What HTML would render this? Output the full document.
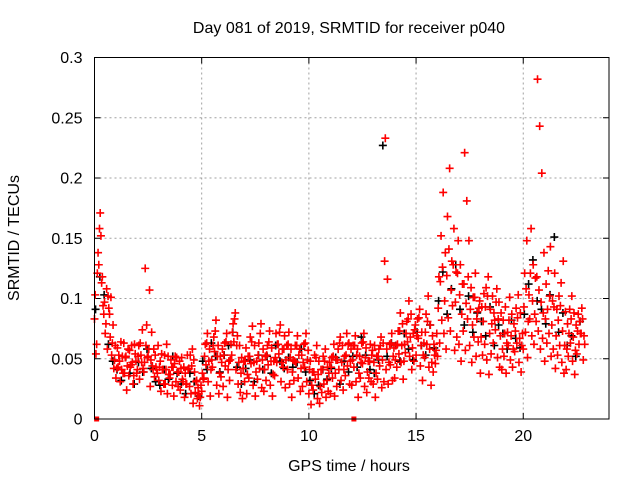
<!DOCTYPE html>
<html><head><meta charset="utf-8"><style>
body{margin:0;background:#fff}
svg{display:block;font-family:"Liberation Sans",sans-serif}
</style></head><body>
<svg id="chart" width="640" height="480"></svg>
<script>
const xTicks=[0,5,10,15,20];
const yTicks=[0,0.05,0.1,0.15,0.2,0.25,0.3];
const yTickLabels=["0","0.05","0.1","0.15","0.2","0.25","0.3"];
const redA=[.083,.062,.128,.152,.094,.071,.058,.087,.053,.042,.034,.043,.031,.052,.038,.024,.036,.045,.029,.054,.041,.033,.047,.039,.061,.052,.027,.044,.035,.041,.032,.023,.041,.029,.021,.034,.043,.019,.031,.027,.024,.033,.018,.029,.042,.021,.013,.022,.017,.011,.023,.034,.045,.031,.019,.043,.056,.028,.021,.035,.027,.044,.018,.032,.053,.064,.041,.029,.022,.017,.031,.021,.034,.046,.028,.019,.033,.042,.026,.023,.032,.045,.028,.019,.036,.047,.054,.031,.043,.026,.041,.029,.018,.032,.047,.034,.023,.027,.043,.031,.021,.012,.024,.033,.017,.013,.022,.029,.018,.023,.021,.034,.019,.027,.041,.032,.024,.036,.044,.029,.028,.043,.031,.018,.034,.046,.027,.022,.034,.031,.029,.018,.033,.044,.026,.031,.041,.029,.045,.032,.034,.043,.054,.047,.033,.055,.064,.052,.041,.048,.053,.067,.044,.032,.051,.062,.043,.028,.039,.046,.052,.063,.082,.071,.058,.084,.073,.094,.057,.068,.062,.048,.073,.057,.083,.061,.047,.068,.052,.064,.038,.053,.062,.049,.037,.054,.063,.074,.051,.043,.041,.052,.038,.061,.049,.043,.056,.063,.047,.039,.058,.072,.051,.083,.069,.062,.081,.073,.058,.067,.048,.063,.071,.052,.058,.042,.053,.061,.047,.038,.041,.052,.063,.048,.037,.054,.062,.071,.049];
const redB=[.103,.121,.158,.113,.087,.079,.102,.068,.063,.049,.042,.053,.064,.038,.051,.044,.057,.061,.036,.048,.052,.063,.074,.047,.078,.058,.049,.041,.053,.038,.043,.054,.029,.041,.052,.037,.028,.046,.051,.039,.042,.031,.038,.053,.027,.044,.049,.031,.026,.018,.038,.052,.063,.048,.041,.061,.073,.052,.038,.047,.053,.064,.041,.049,.072,.083,.061,.047,.038,.042,.048,.037,.052,.064,.047,.039,.053,.071,.049,.041,.053,.064,.048,.037,.051,.062,.072,.047,.058,.049,.062,.051,.039,.048,.061,.053,.042,.047,.063,.049,.041,.028,.039,.051,.037,.027,.041,.048,.032,.038,.043,.052,.038,.049,.063,.047,.041,.053,.062,.048,.049,.061,.053,.038,.047,.064,.051,.039,.048,.053,.047,.038,.052,.061,.049,.131,.058,.047,.063,.052,.049,.062,.073,.061,.048,.071,.083,.068,.059,.074,.069,.084,.061,.053,.072,.081,.058,.047,.062,.057,.092,.114,.126,.098,.119,.141,.107,.128,.097,.121,.103,.087,.112,.096,.118,.091,.078,.101,.083,.092,.068,.081,.093,.102,.071,.079,.088,.097,.083,.069,.058,.071,.063,.082,.069,.058,.073,.084,.067,.061,.093,.108,.081,.121,.098,.087,.118,.107,.097,.088,.083,.091,.102,.078,.093,.069,.082,.094,.073,.061,.058,.071,.083,.068,.057,.073,.081,.092,.069];
const redC=[.054,.138,.171,.118,.097,.108,.092,.101,.078,.061,.059,.048,.041,.063,.052,.058,.043,.047,.062,.038,.061,.053,.042,.125,.051,.107,.072,.058,.043,.061,.048,.041,.053,.062,.037,.049,.043,.052,.039,.048,.051,.043,.029,.041,.053,.058,.039,.032,.021,.028,.033,.062,.071,.058,.049,.068,.082,.061,.052,.058,.063,.071,.048,.062,.079,.088,.069,.061,.051,.048,.059,.052,.068,.077,.061,.048,.063,.079,.058,.052,.061,.073,.059,.048,.071,.062,.078,.058,.069,.061,.072,.058,.049,.061,.069,.058,.053,.062,.071,.057,.048,.039,.053,.061,.048,.041,.052,.058,.043,.047,.051,.062,.049,.058,.068,.061,.052,.071,.063,.058,.061,.069,.058,.052,.063,.071,.059,.048,.062,.057,.061,.052,.058,.068,.063,.233,.116,.062,.071,.059,.061,.073,.088,.079,.062,.081,.098,.087,.071,.078,.083,.091,.072,.063,.087,.102,.078,.069,.053,.071,.118,.152,.188,.138,.168,.208,.131,.158,.122,.148,.128,.112,.221,.181,.148,.109,.101,.121,.089,.098,.093,.104,.109,.118,.091,.102,.082,.108,.097,.088,.082,.093,.072,.101,.087,.079,.092,.103,.088,.071,.121,.148,.103,.158,.128,.117,.282,.243,.204,.138,.112,.123,.143,.098,.121,.091,.102,.113,.131,.089,.079,.091,.102,.088,.078,.087,.071,.083,.062];
const blackVals=[.091,.118,.103,.062,.048,.041,.032,.051,.038,.029,.047,.039,.058,.042,.031,.028,.041,.033,.052,.038,.029,.021,.038,.031,.019,.048,.041,.063,.052,.039,.053,.061,.072,.043,.029,.042,.049,.031,.053,.041,.052,.038,.061,.048,.042,.051,.043,.047,.058,.039,.032,.021,.028,.041,.033,.042,.051,.029,.048,.039,.052,.043,.068,.053,.041,.038,.049,.227,.052,.063,.061,.048,.071,.058,.049,.072,.061,.053,.078,.059,.098,.122,.087,.108,.128,.091,.078,.102,.072,.088,.081,.069,.093,.061,.078,.071,.058,.082,.067,.059,.087,.112,.132,.098,.091,.079,.103,.151,.072,.088,.061,.069,.052,.081];
const zeroTimes=[0.1,12.1];
const zeroVals=[0,0];

const L=94.5,R=609,T=57.5,B=419,xMax=24,yMax=0.3;
const X=v=>L+v/xMax*(R-L), Y=v=>B-v/yMax*(B-T);
const svg=document.getElementById('chart'),NS='http://www.w3.org/2000/svg';
function mk(tag,attrs,parent){const e=document.createElementNS(NS,tag);for(const k in attrs)e.setAttribute(k,attrs[k]);(parent||svg).appendChild(e);return e;}
const grid=mk('g',{stroke:'#a0a0a0','stroke-dasharray':'2,3','stroke-width':1});


xTicks.forEach(t=>{if(t>0){mk('line',{x1:X(t),x2:X(t),y1:T,y2:B},grid);}});
yTicks.forEach(t=>{if(t>0&&t<yMax){mk('line',{x1:L,x2:R,y1:Y(t),y2:Y(t)},grid);}});
const ticks=mk('g',{stroke:'#000','stroke-width':1});
xTicks.forEach(t=>{mk('line',{x1:X(t),x2:X(t),y1:B,y2:B-6},ticks);mk('line',{x1:X(t),x2:X(t),y1:T,y2:T+6},ticks);
 const tx=mk('text',{x:X(t),y:B+22,'text-anchor':'middle','font-size':16,fill:'#000',stroke:'none'});tx.textContent=t;
 
 });
yTicks.forEach((t,i)=>{mk('line',{x1:L,x2:L+6,y1:Y(t),y2:Y(t)},ticks);mk('line',{x1:R,x2:R-6,y1:Y(t),y2:Y(t)},ticks);
 const tx=mk('text',{x:L-12,y:Y(t)+5.5,'text-anchor':'end','font-size':16,fill:'#000',stroke:'none'});tx.textContent=yTickLabels[i];
 
 });
function plus(g,x,y,c){mk('path',{d:`M${x-4},${y}h8M${x},${y-4}v8`,stroke:c,'stroke-width':1.6,fill:'none'},g);}
const blk=mk('g',{});


blackVals.forEach((v,i)=>plus(blk,X(i*0.2+0.05),Y(v),'#000'));
const red=mk('g',{});


[[redA,0],[redB,0.033],[redC,0.066]].forEach(([arr,off])=>arr.forEach((v,i)=>plus(red,X(i*0.1+off),Y(v),'#f00')));
zeroTimes.forEach((t,i)=>{const s=mk('rect',{x:X(t)-2.5,y:Y(zeroVals[i])-2.5,width:5,height:5,fill:'#f00'});
 
 });
const fr=mk('rect',{x:L,y:T,width:R-L,height:B-T,fill:'none',stroke:'#000','stroke-width':1});


const ti=mk('text',{x:349,y:33,'text-anchor':'middle','font-size':16,fill:'#000'});ti.textContent='Day 081 of 2019, SRMTID for receiver p040';


const xl=mk('text',{x:349,y:471,'text-anchor':'middle','font-size':16,fill:'#000'});xl.textContent='GPS time / hours';


const yl=mk('text',{x:19,y:238,'text-anchor':'middle','font-size':16,fill:'#000',transform:'rotate(-90 19 238)'});yl.textContent='SRMTID / TECUs';


</script>
</body></html>
